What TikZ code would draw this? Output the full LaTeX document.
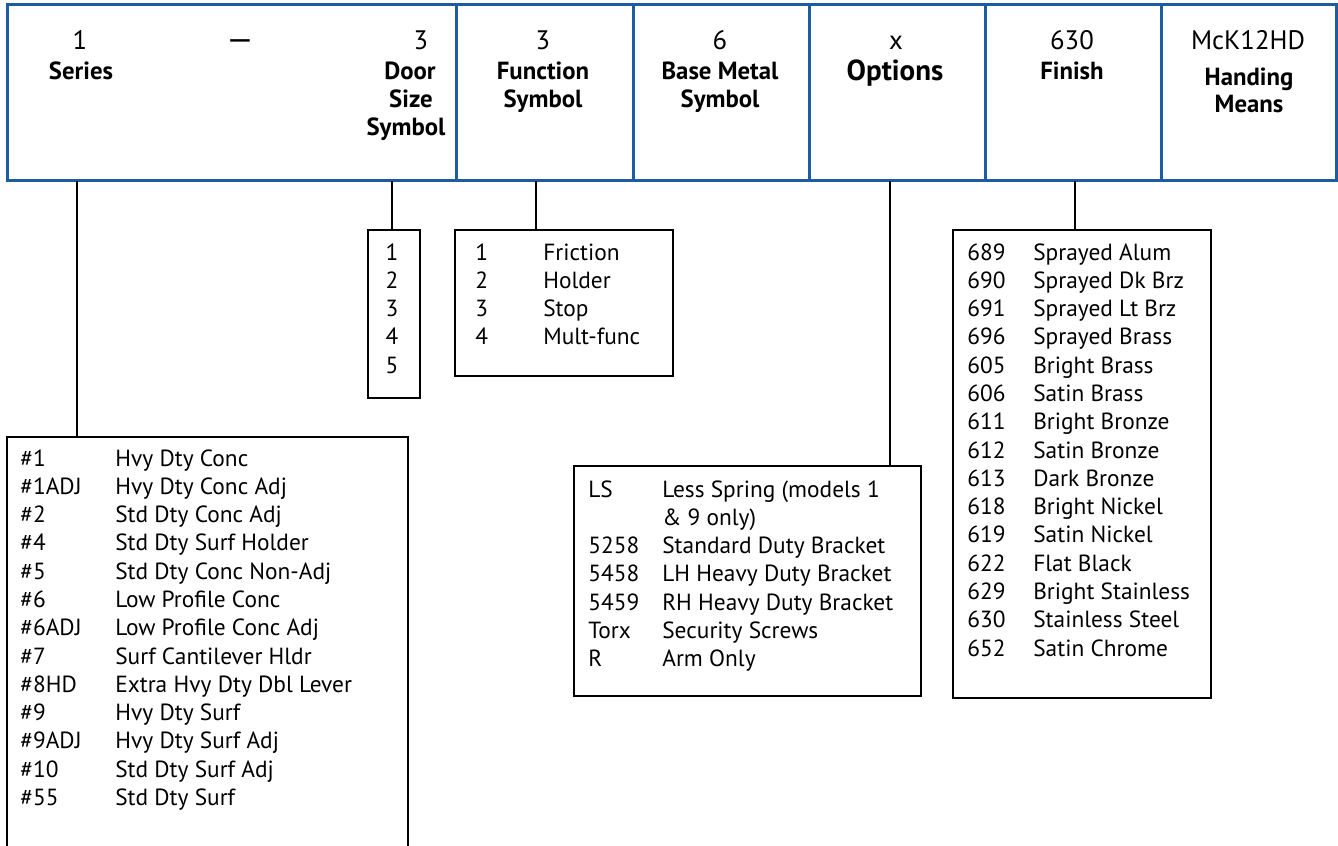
\documentclass[tikz,border=0pt]{standalone}
\usepackage{fontspec}
\setmainfont{PT Sans}
\definecolor{hdrblue}{RGB}{30,92,160}
\tikzset{
	cell/.style={draw=hdrblue, line width=1.6pt, anchor=north west, inner sep=0pt, minimum height=3.52cm},
	num/.style={anchor=base, inner sep=0pt, font=\fontsize{15.2}{18}\selectfont},
	lab/.style={anchor=base, inner sep=0pt, font=\fontsize{14.1}{17}\selectfont\bfseries},
	listbox/.style={draw, line width=1.3pt, anchor=north west, inner sep=0pt},
	list/.style={anchor=base west, inner sep=0pt, font=\fontsize{13.3}{16.1}\selectfont},
	link/.style={line width=1.3pt}
}
\begin{document}
\begin{tikzpicture}[x=0.02cm, y=-0.02cm]
		\useasboundingbox (0,0) rectangle (1338,845);
		
		\node[cell, minimum width=8.98cm] (hseries) at (6,3) {};
		\node[cell, minimum width=3.54cm] (hfunc) at (455,3) {};
		\node[cell, minimum width=3.52cm] (hbase) at (632,3) {};
		\node[cell, minimum width=3.52cm] (hopt) at (808,3) {};
		\node[cell, minimum width=3.52cm] (hfin) at (984,3) {};
		\node[cell, minimum width=3.5cm] (hhand) at (1160,3) {};
		
		\node[num] (sernum) at (80,49) {1};
		\node[lab] (serlab) at (81,79) {Series};
		\node[num, font=\fontsize{19}{20}\selectfont] (dash) at (240,51) {—};
		\node[num] (sizenum) at (421,49) {3};
		\node[lab] (sizelab) at (410,79) {Door};
		\node[lab] (sizelab2) at (411,107) {Size};
		\node[lab] (sizelab3) at (406,135) {Symbol};
		\node[num] (funcnum) at (543,49) {3};
		\node[lab] (funclab) at (543,79) {Function};
		\node[lab] (funclab2) at (543,107) {Symbol};
		\node[num] (basenum) at (720,49) {6};
		\node[lab] (baselab) at (720,79) {Base Metal};
		\node[lab] (baselab2) at (720,107) {Symbol};
		\node[num] (optnum) at (896,49) {x};
		\node[lab, font=\fontsize{16.5}{18}\selectfont\bfseries] (optlab) at (895,80) {Options};
		\node[num] (finnum) at (1072,50) {630};
		\node[lab] (finlab) at (1072,79) {Finish};
		\node[num] (handnum) at (1248,50) {McK12HD};
		\node[lab] (handlab) at (1249,85) {Handing};
		\node[lab] (handlab2) at (1249,112) {Means};
		
		\node[listbox, minimum width=8.02cm, minimum height=8.68cm] (serbox) at (6,436) {};
		\node[listbox, minimum width=1.04cm, minimum height=3.36cm] (sizebox) at (367,229) {};
		\node[listbox, minimum width=4.36cm, minimum height=2.92cm] (funcbox) at (454,229) {};
		\node[listbox, minimum width=6.94cm, minimum height=4.6cm] (optbox) at (573,465) {};
		\node[listbox, minimum width=5.16cm, minimum height=9.36cm] (finbox) at (952,229) {};
		
		\coordinate (serout) at (77,181);
		\coordinate (sizeout) at (392,181);
		\coordinate (funcout) at (536,181);
		\coordinate (optout) at (890,181);
		\coordinate (finout) at (1075,181);
		\draw[link] (serout) -- (serout |- serbox.north);
		\draw[link] (sizeout) -- (sizeout |- sizebox.north);
		\draw[link] (funcout) -- (funcout |- funcbox.north);
		\draw[link] (optout) -- (optout |- optbox.north);
		\draw[link] (finout) -- (finout |- finbox.north);
		
		\node[list] (serlist) at (20,466) {\begin{tabular}[t]{@{}p{1.9cm}@{}l@{}}
			\#1 & Hvy Dty Conc\\
			\#1ADJ & Hvy Dty Conc Adj\\
			\#2 & Std Dty Conc Adj\\
			\#4 & Std Dty Surf Holder\\
			\#5 & Std Dty Conc Non-Adj\\
			\#6 & Low Profile Conc\\
			\#6ADJ & Low Profile Conc Adj\\
			\#7 & Surf Cantilever Hldr\\
			\#8HD & Extra Hvy Dty Dbl Lever\\
			\#9 & Hvy Dty Surf\\
			\#9ADJ & Hvy Dty Surf Adj\\
			\#10 & Std Dty Surf Adj\\
			\#55 & Std Dty Surf
		\end{tabular}};
		\node[list, anchor=base] (sizelist) at (392,260) {\begin{tabular}[t]{@{}c@{}}
			1\\ 2\\ 3\\ 4\\ 5
		\end{tabular}};
		\node[list] (funclist) at (475,260) {\begin{tabular}[t]{@{}p{1.36cm}@{}l@{}}
			1 & Friction\\
			2 & Holder\\
			3 & Stop\\
			4 & Mult-func
		\end{tabular}};
		\node[list] (optlist) at (588,497) {\begin{tabular}[t]{@{}p{1.48cm}@{}l@{}}
			LS & Less Spring (models 1\\
			 & \& 9 only)\\
			5258 & Standard Duty Bracket\\
			5458 & LH Heavy Duty Bracket\\
			5459 & RH Heavy Duty Bracket\\
			Torx & Security Screws\\
			R & Arm Only
		\end{tabular}};
		\node[list] (finlist) at (967,260) {\begin{tabular}[t]{@{}p{1.32cm}@{}l@{}}
			689 & Sprayed Alum\\
			690 & Sprayed Dk Brz\\
			691 & Sprayed Lt Brz\\
			696 & Sprayed Brass\\
			605 & Bright Brass\\
			606 & Satin Brass\\
			611 & Bright Bronze\\
			612 & Satin Bronze\\
			613 & Dark Bronze\\
			618 & Bright Nickel\\
			619 & Satin Nickel\\
			622 & Flat Black\\
			629 & Bright Stainless\\
			630 & Stainless Steel\\
			652 & Satin Chrome
		\end{tabular}};
	\end{tikzpicture}
\end{document}
